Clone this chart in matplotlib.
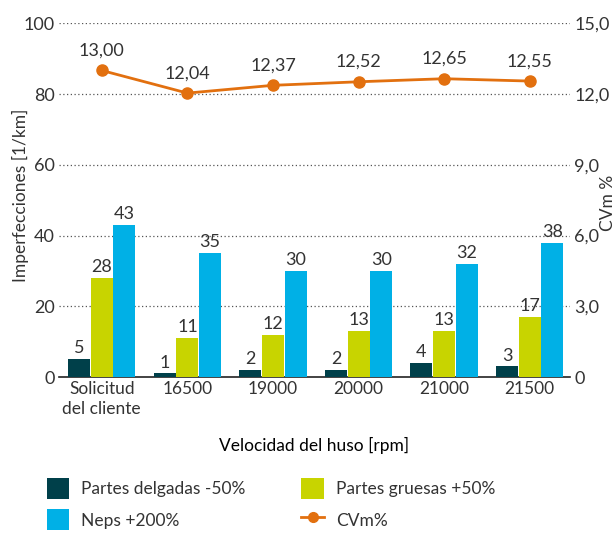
import matplotlib.pyplot as plt
from matplotlib.patches import Patch
from matplotlib.lines import Line2D
import numpy as np

categories = ["Solicitud\ndel cliente", "16500", "19000", "20000", "21000", "21500"]
delgadas = [5, 1, 2, 2, 4, 3]
gruesas = [28, 11, 12, 13, 13, 17]
neps = [43, 35, 30, 30, 32, 38]
cvm = [13.00, 12.04, 12.37, 12.52, 12.65, 12.55]

left_ticks = [0, 20, 40, 60, 80, 100]
right_ticks = [0, 3, 6, 9, 12, 15]

c_dark = "#00404a"
c_green = "#c8d400"
c_blue = "#00b0e6"
c_orange = "#e2700f"
c_text = "#333333"

fs_num = 13
fs_txt = 12.5

plt.rcParams['font.family'] = ['Lato', 'DejaVu Sans']
plt.rcParams['text.color'] = c_text

fig = plt.figure(figsize=(6.16, 5.33), dpi=100)
ax = fig.add_axes([59 / 616, 156 / 533, 511 / 616, 353.7 / 533])

x = np.arange(len(categories))
w = 0.265

# barras
series = [(delgadas, c_dark, -w), (gruesas, c_green, 0), (neps, c_blue, w)]
for vals, col, off in series:
    bars = ax.bar(x + off, vals, w * 0.97, color=col, zorder=3)
    for b, v in zip(bars, vals):
        ax.text(b.get_x() + b.get_width() / 2, v + 0.8, str(v),
                ha="center", va="bottom", fontsize=fs_num, color=c_text)

ax.set_ylim(0, 100)
ax.set_xlim(-0.5, 5.47)
ax.set_yticks(left_ticks)
ax.set_yticklabels([str(t) for t in left_ticks])
ax.set_xticks(x)
ax.set_xticklabels(categories, linespacing=1.3)
ax.tick_params(length=0, pad=3, colors=c_text, labelsize=fs_num)
for lbl in ax.get_xticklabels():
    lbl.set_fontsize(fs_txt)
for s in ["top", "right", "left"]:
    ax.spines[s].set_visible(False)
ax.spines["bottom"].set_color("#222222")
ax.spines["bottom"].set_linewidth(1.2)
ax.set_axisbelow(True)
ax.yaxis.grid(True, linestyle=(0, (1, 2)), color="#555555", linewidth=0.9)
ax.get_ygridlines()[0].set_visible(False)

ax.set_xlabel("Velocidad del huso [rpm]", fontsize=fs_txt, labelpad=14)
fig.text(20 / 616, 1 - 195 / 533, "Imperfecciones [1/km]", rotation=90,
         ha="center", va="center", fontsize=fs_txt)

# linea CVm
ax2 = ax.twinx()
ax2.set_ylim(0, 15)
ax2.set_yticks(right_ticks)
ax2.set_yticklabels(["0"] + [f"{t:.1f}".replace(".", ",") for t in right_ticks[1:]])
ax2.tick_params(length=0, pad=3, colors=c_text, labelsize=fs_num)
for s in ax2.spines.values():
    s.set_visible(False)
ax2.plot(x, cvm, color=c_orange, linewidth=2, marker="o", markersize=8, zorder=4)
for xi, v in zip(x, cvm):
    ax2.text(xi, v + 0.5, f"{v:.2f}".replace(".", ","), ha="center", va="bottom",
             fontsize=fs_num, color=c_text)
fig.text(608 / 616, 1 - 203 / 533, "CVm %", rotation=90,
         ha="center", va="center", fontsize=fs_txt)

# leyenda (orden por filas)
handles = [
    Patch(facecolor=c_dark, label="Partes delgadas -50%"),
    Patch(facecolor=c_blue, label="Neps +200%"),
    Patch(facecolor=c_green, label="Partes gruesas +50%"),
    Line2D([0], [0], color=c_orange, marker="o", linewidth=2, markersize=7, label="CVm%"),
]
fig.legend(handles=handles, ncol=2, loc="upper left", bbox_to_anchor=(31 / 616, 1 - 462 / 533),
           frameon=False, fontsize=fs_txt, handlelength=1.3, handleheight=1.5,
           handletextpad=0.7, columnspacing=3.2, labelspacing=0.6)

fig.savefig("out.png", dpi=100)
